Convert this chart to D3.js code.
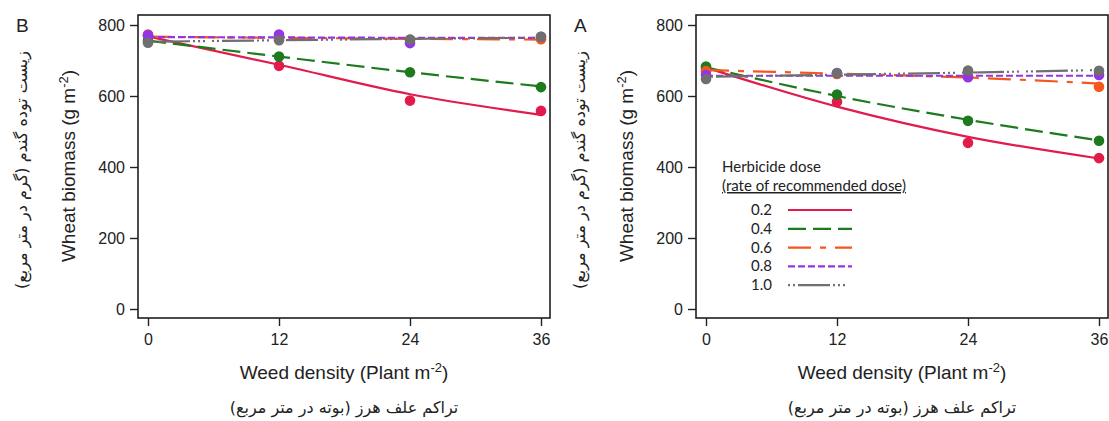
<!DOCTYPE html>
<html>
<head>
<meta charset="utf-8">
<script src="https://d3js.org/d3.v7.min.js"></script>
<style>
body { margin: 0; background: #fff; }
svg text { fill: #222; }
.tick text { font-family: "Liberation Sans", Arial, sans-serif; font-size: 16px; }
.tick line { stroke: #222; stroke-width: 1.4; }
</style>
</head>
<body>
<svg id="chart" width="1109" height="421"></svg>
<script>
// weed density levels and tick labels
const densities = [0, 12, 24, 36];
const xTicks = [0, 12, 24, 36];
const yTicks = [0, 200, 400, 600, 800];
const doses = ["0.2", "0.4", "0.6", "0.8", "1.0"];

// panel B: observed means, one row per dose
const obsB = [
  [770, 685, 587, 558],
  [755, 711, 667, 625],
  [773, 766, 758, 760],
  [772, 773, 749, 767],
  [750, 757, 759, 767]
];
// panel B: fitted curves read at the same densities
const fitB = [
  [768, 688, 605, 547],
  [756, 711, 667, 627],
  [767, 764, 761, 759],
  [766, 765, 764, 764],
  [753, 757, 761, 764]
];

// panel A: observed means
const obsA = [
  [679, 584, 468, 425],
  [683, 604, 530, 474],
  [670, 662, 655, 626],
  [659, 665, 653, 659],
  [648, 664, 672, 671]
];
// panel A: fitted curves
const fitA = [
  [680, 570, 485, 424],
  [681, 600, 533, 475],
  [673, 663, 652, 635],
  [657, 657, 657, 657],
  [654, 660, 666, 673]
];

// styles
const colors = ["#e11b4c", "#1d7a1d", "#f4561c", "#9434e6", "#6f6f6f"];
const dashes = [null, "18,7", "23,9,6,9", "7,3", "2,3,2,3,32,3,2,3,2,3,2,7"];

const svg = d3.select("#chart");
const boxW = 412, boxTop = 15, boxBottom = 318;

const x = d3.scaleLinear().domain([0, 36]).range([10, 403]);
const y = d3.scaleLinear().domain([0, 800]).range([309, 25]);

function supTitle(t, main, sup, close) {
  t.append("tspan").text(main);
  t.append("tspan").attr("dy", -7).style("font-size", "13px").text(sup);
  t.append("tspan").attr("dy", 7).text(close);
}

function drawPanel(left, letter, obs, fit, withLegend) {
  const g = svg.append("g").attr("transform", "translate(" + left + ",0)");

  // axes
  g.append("g")
    .call(d3.axisLeft(y).tickValues(yTicks).tickSize(8).tickPadding(5))
    .call(a => a.select(".domain").remove());
  g.append("g").attr("transform", "translate(0," + boxBottom + ")")
    .call(d3.axisBottom(x).tickValues(xTicks).tickSize(8).tickPadding(8))
    .call(a => a.select(".domain").remove());

  // box
  g.append("rect")
    .attr("x", 0).attr("y", boxTop)
    .attr("width", boxW).attr("height", boxBottom - boxTop)
    .attr("fill", "none").attr("stroke", "#1e1e1e").attr("stroke-width", 1.6);

  const line = d3.line()
    .x((d, i) => x(densities[i]))
    .y(d => y(d))
    .curve(d3.curveMonotoneX);

  fit.forEach((s, k) => {
    g.append("path")
      .attr("d", line(s))
      .attr("fill", "none")
      .attr("stroke", colors[k])
      .attr("stroke-width", 2.2)
      .attr("stroke-dasharray", dashes[k]);
  });
  obs.forEach((s, k) => {
    g.selectAll(null).data(s).enter().append("circle")
      .attr("cx", (d, i) => x(densities[i]))
      .attr("cy", d => y(d))
      .attr("r", 5.3)
      .attr("fill", colors[k]);
  });

  // panel letter
  g.append("text").attr("x", -122).attr("y", 32)
    .style("font-family", "Liberation Sans, Arial, sans-serif")
    .style("font-size", "19px").text(letter);

  // y titles
  const yt = g.append("text")
    .attr("transform", "translate(-63,166) rotate(-90)")
    .attr("text-anchor", "middle")
    .style("font-family", "Liberation Sans, Arial, sans-serif")
    .style("font-size", "19px");
  supTitle(yt, "Wheat biomass (g m", "-2", ")");

  g.append("text")
    .attr("transform", "translate(-111,170) rotate(-90)")
    .attr("text-anchor", "middle")
    .attr("direction", "rtl")
    .style("font-family", "DejaVu Sans, sans-serif")
    .style("font-size", "16px")
    .text("زیست توده گندم (گرم در متر مربع)");

  // x titles
  const xt = g.append("text")
    .attr("x", boxW / 2).attr("y", 379)
    .attr("text-anchor", "middle")
    .style("font-family", "Liberation Sans, Arial, sans-serif")
    .style("font-size", "19px");
  supTitle(xt, "Weed density (Plant m", "-2", ")");

  g.append("text")
    .attr("x", boxW / 2).attr("y", 413)
    .attr("text-anchor", "middle")
    .attr("direction", "rtl")
    .style("font-family", "DejaVu Sans, sans-serif")
    .style("font-size", "16px")
    .text("تراکم علف هرز (بوته در متر مربع)");

  if (withLegend) {
    const lg = g.append("g").attr("transform", "translate(26,0)")
      .style("font-family", "Lato, Open Sans, sans-serif")
      .style("font-size", "15px");
    lg.append("text").attr("x", 0).attr("y", 172).text("Herbicide dose");
    lg.append("text").attr("x", 0).attr("y", 191)
      .style("text-decoration", "underline")
      .text("(rate of recommended dose)");
    doses.forEach((d, k) => {
      const yy = 210 + k * 18.8;
      lg.append("text").attr("x", 29).attr("y", yy + 5).text(d);
      lg.append("line")
        .attr("x1", 66).attr("x2", 130)
        .attr("y1", yy).attr("y2", yy)
        .attr("stroke", colors[k]).attr("stroke-width", 2.2)
        .attr("stroke-dasharray", dashes[k]);
    });
  }
}

drawPanel(138, "B", obsB, fitB, false);
drawPanel(696, "A", obsA, fitA, true);
</script>
</body>
</html>
